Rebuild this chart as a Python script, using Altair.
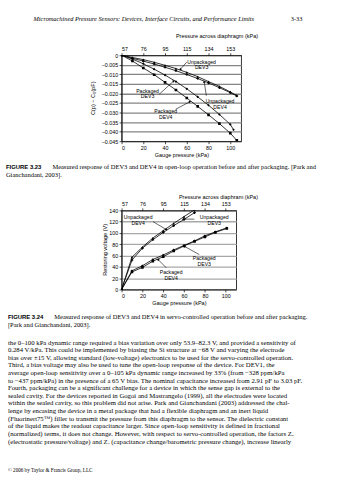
import math
import altair as alt
import pandas as pd

# ---------------- shared axis labels ----------------
gauge_ticks = [0, 20, 40, 60, 80, 100]
across_labels = ["57", "76", "95", "115", "134", "153"]
series_names = ["Unpackaged DEV3", "Unpackaged DEV4", "Packaged DEV3", "Packaged DEV4"]
series_shapes = ["triangle-up", "cross", "diamond", "square"]

# ---------------- Figure 3.23 : open-loop ----------------
ol_x_unpk3 = [0, 10, 20, 30, 40, 50, 60, 70, 80, 90, 100, 106]
ol_y_unpk3 = [0, -0.0012, -0.0023, -0.0037, -0.0053, -0.0070, -0.0090, -0.0112, -0.0138, -0.0163, -0.0192, -0.0211]
ol_x_unpk4 = [0, 10, 20, 30, 40, 50, 60, 70, 80, 90, 100, 106]
ol_y_unpk4 = [0, -0.0016, -0.0031, -0.0046, -0.0063, -0.0081, -0.0101, -0.0122, -0.0145, -0.0170, -0.0196, -0.0213]
ol_x_pk3 = [0, 10, 20, 30, 40, 50, 60, 70, 80, 90, 100, 103]
ol_y_pk3 = [0, -0.0020, -0.0045, -0.0073, -0.0104, -0.0138, -0.0176, -0.0218, -0.0262, -0.0310, -0.0362, -0.0390]
ol_x_pk4 = [0, 10, 20, 30, 40, 50, 60, 70, 80, 90, 100, 106]
ol_y_pk4 = [0, -0.0030, -0.0067, -0.0102, -0.0142, -0.0182, -0.0224, -0.0268, -0.0312, -0.0358, -0.0408, -0.0446]
ol_y_ticks = [0, -0.005, -0.010, -0.015, -0.020, -0.025, -0.030, -0.035, -0.040, -0.045]

# annotations: line1, line2, text x, text y1, text y2, arrow from (x,y), arrow tip (x,y)
ol_ann = [
    ("Unpackaged", "DEV3", 73.6, -0.0036, -0.0062, 60, -0.0036, 54, -0.0074),
    ("Unpackaged", "DEV4", 90.6, -0.0239, -0.0270, 78, -0.0212, 76, -0.0138),
    ("Packaged", "DEV3", 23.9, -0.0185, -0.0214, 34.5, -0.0205, 48, -0.0135),
    ("Packaged", "DEV4", 40.6, -0.0291, -0.0321, 49.7, -0.0283, 63, -0.0243),
]

# ---------------- Figure 3.24 : servo-controlled ----------------
sv_x_unpk = [0, 10, 20, 30, 40, 50, 60, 70]
sv_y_unpk3 = [0, 57, 75, 91, 104, 117, 129, 141]
sv_y_unpk4 = [0, 52, 73, 88, 101, 113, 124, 136]
sv_x_pk = [0, 10, 20, 30, 40, 50, 60, 70, 80, 90, 101]
sv_y_pk3 = [0, 33, 42, 53, 61, 70, 78, 86, 95, 102, 109]
sv_y_pk4 = [0, 31, 39, 50, 58, 68, 77, 85, 93, 101, 108]
sv_y_ticks = [0, 20, 40, 60, 80, 100, 120, 140]

sv_ann = [
    ("Unpackaged", "DEV4", 15.9, 128.7, 117.0, 30.2, 120.0, 43, 106),
    ("Unpackaged", "DEV3", 88.9, 128.7, 117.0, 69.8, 124.5, 59, 124.5),
    ("Packaged", "DEV3", 79.3, 55.9, 44.2, 74.6, 61.7, 60.3, 76.3),
    ("Packaged", "DEV4", 47.6, 30.9, 19.7, 42.9, 38.4, 35, 53),
]

# ---------------- page text ----------------
header_left = "Micromachined Pressure Sensors: Devices, Interface Circuits, and Performance Limits"
header_right = "3-33"
title_1 = "Pressure across diaphragm (kPa)"
title_2 = "Pressure across diaphram (kPa)"
ytitle_1 = "C(p) \u2212 C\u2080(pF)"
ytitle_2 = "Restoring voltage (V)"
cap1_label = "FIGURE 3.23"
cap1_lines = ["Measured response of DEV3 and DEV4 in open-loop operation before and after packaging. [Park and",
              "Gianchandani, 2003]."]
cap2_label = "FIGURE 3.24"
cap2_lines = ["Measured response of DEV3 and DEV4 in servo-controlled operation before and after packaging.",
              "[Park and Gianchandani, 2003]."]
body_lines = [
    "the 0\u2013100 kPa dynamic range required a bias variation over only 53.9\u201382.3 V, and provided a sensitivity of",
    "0.284 V/kPa. This could be implemented by biasing the Si structure at \u221268 V and varying the electrode",
    "bias over \u00b115 V, allowing standard (low-voltage) electronics to be used for the servo-controlled operation.",
    "    Third, a bias voltage may also be used to tune the open-loop response of the device. For DEV1, the",
    "average open-loop sensitivity over a 0\u2013105 kPa dynamic range increased by 33% (from \u2212328 ppm/kPa",
    "to \u2212437 ppm/kPa) in the presence of a 65 V bias. The nominal capacitance increased from 2.91 pF to 3.03 pF.",
    "    Fourth, packaging can be a significant challenge for a device in which the sense gap is external to the",
    "sealed cavity. For the devices reported in Gogoi and Mastrangelo (1999), all the electrodes were located",
    "within the sealed cavity, so this problem did not arise. Park and Gianchandani (2003) addressed the chal-",
    "lenge by encasing the device in a metal package that had a flexible diaphragm and an inert liquid",
    "(Fluorinert75\u2122) filler to transmit the pressure from this diaphragm to the sensor. The dielectric constant",
    "of the liquid makes the readout capacitance larger. Since open-loop sensitivity is defined in fractional",
    "(normalized) terms, it does not change. However, with respect to servo-controlled operation, the factors Z\u2091",
    "(electrostatic pressure/voltage) and Z\u2093 (capacitance change/barometric pressure change), increase linearly",
]
footer = "\u00a9 2006 by Taylor & Francis Group, LLC"

SANS = "Liberation Sans"
SERIF = "Liberation Serif"
one = pd.DataFrame({"a": [0]})


def series_df(pairs):
    rows = []
    for name, xs, ys in pairs:
        for xv, yv in zip(xs, ys):
            rows.append({"series": name, "x": xv, "y": yv})
    return pd.DataFrame(rows)


def text_at(t, x, y, size, font=SERIF, align="left", weight="normal", style="normal", angle=0):
    return alt.Chart(one).mark_text(
        text=t, font=font, fontSize=size, align=align, baseline="middle",
        fontWeight=weight, fontStyle=style, color="black", angle=angle
    ).encode(x=alt.value(x), y=alt.value(y))


def anchor(x0, x1, y0, y1):
    return alt.Chart(one).mark_rect(opacity=0).encode(
        x=alt.value(x0), x2=alt.value(x1), y=alt.value(y0), y2=alt.value(y1))


def panel(df, ann, xdom, ydom, yticks, ylab_expr, W, H, grid_color):
    xs = alt.Scale(domain=xdom, nice=False, zero=False)
    ys = alt.Scale(domain=ydom, nice=False, zero=False)
    top_expr = "[" + ",".join("'%s'" % s for s in across_labels) + "][indexof([" + \
        ",".join(str(v) for v in gauge_ticks) + "], datum.value)]"

    def xb(field):
        return alt.X(field, scale=xs, axis=alt.Axis(orient="bottom", values=gauge_ticks, grid=False,
                                                    title="Gauge pressure (kPa)", titlePadding=2))

    def yl(field):
        return alt.Y(field, scale=ys, axis=alt.Axis(values=yticks, grid=True, labelExpr=ylab_expr,
                                                    gridColor=grid_color, title=None))

    base = alt.Chart(df)
    lines = base.mark_line(color="black", strokeWidth=0.8, clip=True).encode(
        x=xb("x:Q"), y=yl("y:Q"), detail="series:N")
    # annotations (same axes as the lines layer)
    tdf = pd.DataFrame([{"t": a[0], "x": a[2], "y": a[3]} for a in ann] +
                       [{"t": a[1], "x": a[2], "y": a[4]} for a in ann])
    ann_text = alt.Chart(tdf).mark_text(font=SANS, fontSize=5.2, baseline="middle").encode(
        x=xb("x:Q"), y=yl("y:Q"), text="t:N")
    pxx = W / (xdom[1] - xdom[0])
    pxy = H / (ydom[1] - ydom[0])
    adf = pd.DataFrame([{"x": a[5], "y": a[6], "xe": a[7], "ye": a[8],
                         "ang": (math.degrees(math.atan2((a[7] - a[5]) * pxx, (a[8] - a[6]) * pxy)) + 360) % 360}
                        for a in ann])
    ann_rule = alt.Chart(adf).mark_rule(color="black", strokeWidth=0.6).encode(
        x=xb("x:Q"), y=yl("y:Q"), x2="xe:Q", y2="ye:Q")
    ann_head = alt.Chart(adf).mark_point(shape="triangle-up", filled=True, color="black", size=7, opacity=1).encode(
        x=xb("xe:Q"), y=yl("ye:Q"), angle=alt.Angle("ang:Q", scale=None))
    inner = alt.layer(lines, ann_rule, ann_head, ann_text)
    # points carry the secondary (top) axis on the same x scale
    pts = base.mark_point(filled=True, color="black", size=7, opacity=1, clip=True).encode(
        x=alt.X("x:Q", scale=xs, axis=alt.Axis(orient="top", values=gauge_ticks, grid=False,
                                               labelExpr=top_expr, title=None)),
        y=yl("y:Q"),
        shape=alt.Shape("series:N", scale=alt.Scale(domain=series_names, range=series_shapes), legend=None),
    )
    return alt.layer(inner, pts)


# ---------- row A : figure 3.23 (plot origin at page 122, 52) ----------
W1, H1 = 121, 87
df1 = series_df([
    ("Unpackaged DEV3", ol_x_unpk3, ol_y_unpk3),
    ("Unpackaged DEV4", ol_x_unpk4, ol_y_unpk4),
    ("Packaged DEV3", ol_x_pk3, ol_y_pk3),
    ("Packaged DEV4", ol_x_pk4, ol_y_pk4),
])
plot_a = panel(df1, ol_ann, [0, 110], [-0.045, 0], ol_y_ticks,
               "datum.value == 0 ? '0' : format(datum.value, '.3f')", W1, H1, "#858585")
deco_a = alt.layer(
    anchor(-122, 216, -52, 129),
    text_at(header_left, -89, -37, 6.4, style="italic"),
    text_at(header_right, 183, -37, 6.4, align="right"),
    text_at(title_1, 55, -19, 5.6, font=SANS),
    text_at(ytitle_1, -29, H1 / 2, 5.6, font=SANS, align="center", angle=270),
    text_at(cap1_label, -117, 113, 6.0, font=SANS, weight="bold"),
    text_at(cap1_lines[0], -70, 113, 6.55),
    text_at(cap1_lines[1], -117, 121, 6.55),
)
row_a = alt.layer(plot_a, deco_a).properties(width=W1, height=H1)

# ---------- row B : figure 3.24 (plot origin at page 120, 207) ----------
W2, H2 = 116, 80
df2 = series_df([
    ("Unpackaged DEV3", sv_x_unpk, sv_y_unpk3),
    ("Unpackaged DEV4", sv_x_unpk, sv_y_unpk4),
    ("Packaged DEV3", sv_x_pk, sv_y_pk3),
    ("Packaged DEV4", sv_x_pk, sv_y_pk4),
])
plot_b = panel(df2, sv_ann, [0, 110], [0, 140], sv_y_ticks, "datum.label", W2, H2, "#a8a8a8")
deco_b_layers = [
    anchor(-120, 218, -26, 273),
    text_at(title_2, 58, -14, 5.6, font=SANS),
    text_at(ytitle_2, -17, H2 / 2, 5.6, font=SANS, align="center", angle=270),
    text_at(cap2_label, -115, 108, 6.0, font=SANS, weight="bold"),
    text_at(cap2_lines[0], -68, 108, 6.55),
    text_at(cap2_lines[1], -115, 115.5, 6.55),
]
for i, line in enumerate(body_lines):
    deco_b_layers.append(text_at(line, -115, 133.8 + 7.7 * i, 6.8))
deco_b_layers.append(text_at(footer, -115, 263, 5.2))
row_b = alt.layer(plot_b, alt.layer(*deco_b_layers)).properties(width=W2, height=H2)

chart = alt.concat(row_a, row_b, columns=1, spacing=0, align="none").properties(
    padding=0, background="white"
).configure_view(stroke="black", strokeWidth=0.8).configure_axis(
    labelFont=SANS, labelFontSize=5.4, labelColor="black", labelPadding=1.5,
    titleFont=SANS, titleFontSize=5.6, titleFontWeight="normal", titleColor="black",
    domainColor="black", domainWidth=0.8, tickColor="black", tickSize=2.5, tickWidth=0.7,
    gridWidth=1.3,
)

chart.save("out.html", embed_options={"renderer": "svg", "actions": False})
